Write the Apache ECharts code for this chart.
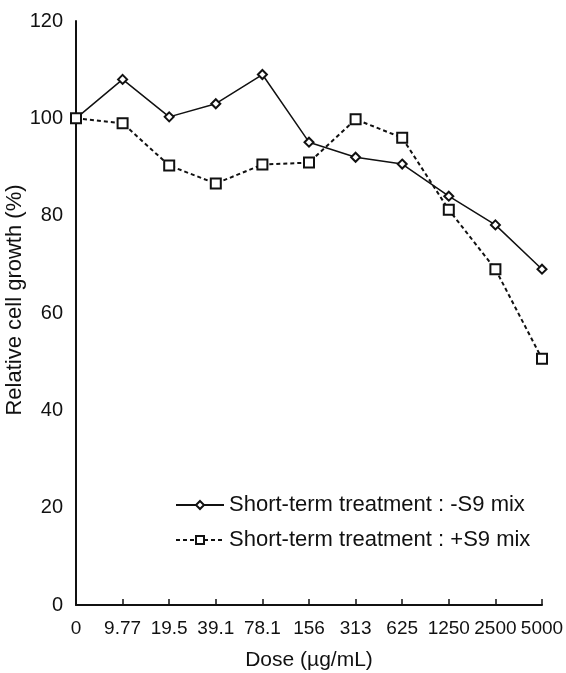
<!DOCTYPE html>
<html><head><meta charset="utf-8">
<script src="https://cdn.jsdelivr.net/npm/echarts@6/dist/echarts.min.js"></script>
<style>html,body{margin:0;padding:0;background:#fff}#c{width:566px;height:673px}</style>
</head><body><div id="c"></div>
<script>
var doses = ['0','9.77','19.5','39.1','78.1','156','313','625','1250','2500','5000'];
var minusS9 = [100,108,100.3,103,109,95.1,92,90.6,84,78.1,69];
var plusS9 = [100,99,90.3,86.6,90.5,90.9,99.8,96,81.2,69,50.6];
var yTicks = [0,20,40,60,80,100,120];
var names = ['Short-term treatment : -S9 mix','Short-term treatment : +S9 mix'];
var font = 'Liberation Sans, Arial, sans-serif';
var chart = echarts.init(document.getElementById('c'));
chart.setOption({
  animation:false,
  backgroundColor:'#fff',
  grid:{left:76,right:24,top:21,bottom:68,containLabel:false,outerBoundsMode:'none'},
  legend:{
    orient:'vertical', left:175, top:494, padding:0, itemGap:13, itemWidth:48, itemHeight:10,
    textStyle:{fontFamily:font,fontSize:22,color:'#111'},
    data:names
  },
  xAxis:{
    type:'category', data:doses, boundaryGap:false,
    name:'Dose (\u00b5g/mL)', nameLocation:'middle', nameGap:45, nameMoveOverlap:false,
    nameTextStyle:{fontFamily:font,fontSize:21,color:'#111'},
    axisLine:{lineStyle:{color:'#111',width:2}},
    axisTick:{inside:true,length:6,alignWithLabel:true,lineStyle:{color:'#111',width:1.5}},
    axisLabel:{fontFamily:font,fontSize:19,color:'#111',margin:14,interval:0},
    splitLine:{show:false}
  },
  yAxis:{
    type:'value', min:0, max:120, interval:10,
    name:'Relative cell growth (%)', nameLocation:'middle', nameGap:50, nameMoveOverlap:false,
    nameTextStyle:{fontFamily:font,fontSize:22,color:'#111',padding:[0,0,0,26]},
    axisLine:{show:true,lineStyle:{color:'#111',width:2}},
    axisTick:{inside:true,length:8,lineStyle:{color:'#111',width:1.5}},
    axisLabel:{fontFamily:font,fontSize:20,color:'#111',margin:13,
      formatter:function(v){return yTicks.indexOf(v)>=0?String(v):'';}},
    splitLine:{show:false}
  },
  series:[
    {name:names[0],type:'line',data:minusS9,symbol:'emptyDiamond',symbolSize:9,
     lineStyle:{color:'#111',width:1.5},itemStyle:{color:'#111',borderWidth:1.3}},
    {name:names[1],type:'line',data:plusS9,symbol:'emptyRect',symbolSize:10,
     lineStyle:{color:'#111',width:2,type:[4,3]},itemStyle:{color:'#111',borderWidth:1.5}}
  ]
});
</script></body></html>
